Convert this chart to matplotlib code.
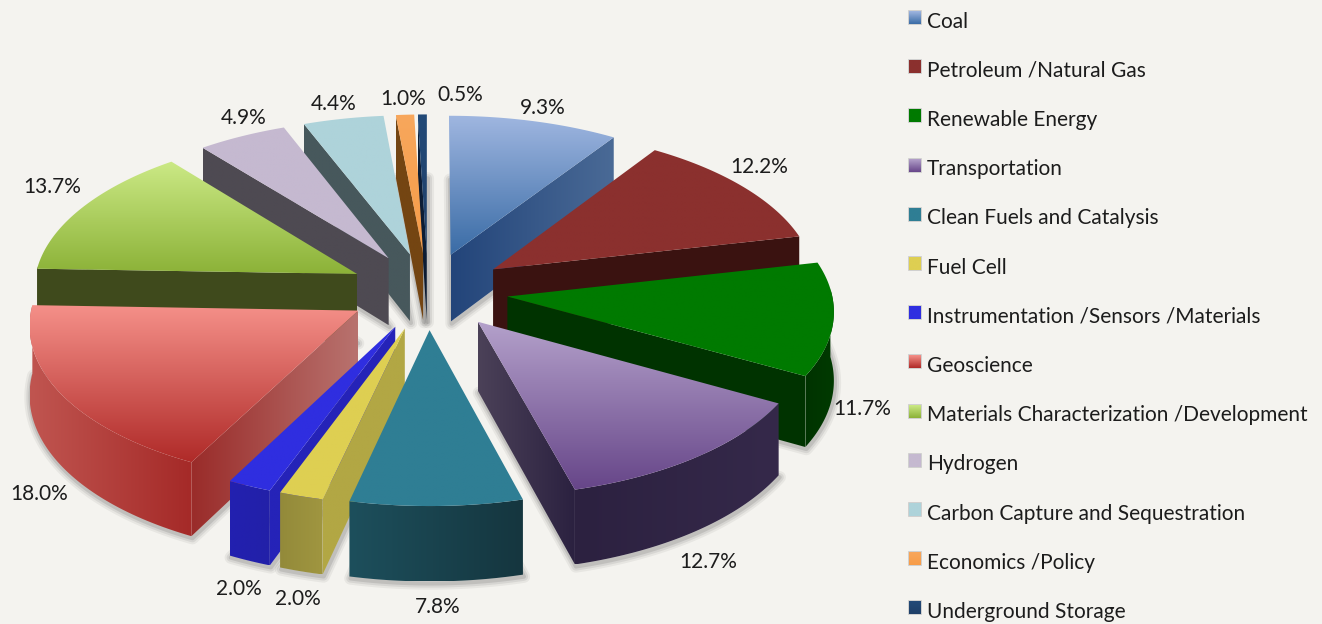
import numpy as np
import matplotlib
matplotlib.use('Agg')
import matplotlib.pyplot as plt
from matplotlib.patches import Polygon
from matplotlib.colors import LinearSegmentedColormap

categories = ['Coal', 'Petroleum /Natural Gas', 'Renewable Energy', 'Transportation',
              'Clean Fuels and Catalysis', 'Fuel Cell', 'Instrumentation /Sensors /Materials',
              'Geoscience', 'Materials Characterization /Development', 'Hydrogen',
              'Carbon Capture and Sequestration', 'Economics /Policy', 'Underground Storage']
values = [9.3, 12.2, 11.7, 12.7, 7.8, 2.0, 2.0, 18.0, 13.7, 4.9, 4.4, 1.0, 0.5]

# pixel centres of the percent labels, same order as values
label_xy = [(543, 108), (759, 167), (862, 409), (708, 562), (438, 607), (298, 599), (239, 589),
            (39, 494), (52, 187), (244, 118), (334, 104), (403, 99), (460, 95)]

# top face: colour at top, colour at bottom
top_a = ['#9fb6e0', '#8b302e', '#007a00', '#b3a0ca', '#2f7e94', '#decf52', '#2f2ee0',
         '#f59089', '#cbe985', '#c5b9d0', '#aed3da', '#f8a75c', '#234a78']
top_b = ['#3a6ca6', '#8b302e', '#007a00', '#674689', '#2f7e94', '#decf52', '#2f2ee0',
         '#b02b29', '#8cb238', '#c5b9d0', '#aed3da', '#f79c48', '#1f3f68']
# rim wall: left, right
wall_a = ['#5f7ba3', '#3a1210', '#003300', '#2c2140', '#1d4f5c', '#938a3a', '#2220b0',
          '#c05550', '#3f4a1c', '#4e4a52', '#47585c', '#7a4a1a', '#10243f']
wall_b = ['#3c5a84', '#3a1210', '#003a00', '#35294a', '#15363f', '#a09640', '#2220a8',
          '#a52a28', '#3f4a1c', '#4e4a52', '#47585c', '#7a4a1a', '#10243f']
# radial faces: left, right
side_a = ['#23457a', '#3a1210', '#003300', '#4b4158', '#1d4f5c', '#b2a744', '#2523b8',
          '#9a2c2a', '#3f4a1c', '#4e4a52', '#47585c', '#744512', '#0d1f38']
side_b = ['#4a6a96', '#3a1210', '#003300', '#2b2140', '#1d4f5c', '#b2a744', '#2523b8',
          '#b8726e', '#3f4a1c', '#4e4a52', '#47585c', '#744512', '#0d1f38']

bg = '#f4f3ef'
cx, cy = 428, 291      # pie centre
R = 324                # radius
expl = 80              # explosion distance
k = 0.48               # tilt
persp = 0.098          # perspective
depth = 68             # thickness


def proj(x, y):
    s = 1 / (1 + persp * y / 403.)
    return cx + x * s, cy - k * y * s, s


def grad(ax, poly, c1, c2, horizontal=False):
    cmap = LinearSegmentedColormap.from_list('g', [c1, c2])
    img = np.linspace(0, 1, 64)
    img = img.reshape(1, -1) if horizontal else img.reshape(-1, 1)
    x0, y0 = poly.min(axis=0)
    x1, y1 = poly.max(axis=0)
    im = ax.imshow(img, cmap=cmap, extent=(x0, x1, y1, y0), aspect='auto',
                   interpolation='bilinear', zorder=ax.zz)
    p = Polygon(poly, closed=True, transform=ax.transData, fc='none', ec='none')
    ax.add_patch(p)
    im.set_clip_path(p)
    ax.zz += 1


fig = plt.figure(figsize=(13.22, 6.24), dpi=100, facecolor=bg)
ax = fig.add_axes([0, 0, 1, 1])
ax.set_facecolor(bg)
ax.zz = 1

edges = np.cumsum([0] + values) / sum(values) * 2 * np.pi
mids = (edges[:-1] + edges[1:]) / 2

# back slices first
for i in np.argsort(-np.cos(mids)):
    a0, a1, m = edges[i], edges[i + 1], mids[i]
    ox, oy = expl * np.sin(m), expl * np.cos(m)
    th = np.linspace(a0, a1, 60)
    ax_x, ax_y, ax_s = proj(ox, oy)
    rx, ry, rs = proj(ox + R * np.sin(th), oy + R * np.cos(th))
    apex = np.array([ax_x, ax_y])
    rim = np.column_stack([rx, ry])
    rim_low = np.column_stack([rx, ry + depth * rs])
    apex_low = np.array([ax_x, ax_y + depth * ax_s])

    topf = np.vstack([apex, rim])
    f0 = np.array([apex, rim[0], rim_low[0], apex_low])
    f1 = np.array([apex, rim[-1], rim_low[-1], apex_low])

    # soft shadow of the underside
    for lw, al in [(9, 0.05), (6, 0.07), (3, 0.10)]:
        ax.add_patch(Polygon(np.vstack([apex_low, rim_low]) + [1, 2], closed=True, fc='none',
                             ec='#000000', lw=lw, alpha=al, zorder=ax.zz, joinstyle='round'))
    ax.zz += 1

    # radial faces, only when they look towards the viewer
    if np.sin(a0) < -1e-6:
        grad(ax, f0, side_a[i], side_b[i], horizontal=True)
    if np.sin(a1) > 1e-6:
        grad(ax, f1, side_a[i], side_b[i], horizontal=True)
    # only the part of the rim that faces the viewer
    front = np.cos(th) < 0.05
    if front.sum() > 1:
        wall = np.vstack([rim[front], rim_low[front][::-1]])
        grad(ax, wall, wall_a[i], wall_b[i], horizontal=True)
    grad(ax, topf, top_a[i], top_b[i])

for i, v in enumerate(values):
    ax.text(label_xy[i][0], label_xy[i][1], '%.1f%%' % v, family='Lato', fontsize=15,
            color='#1c1c1c', ha='center', va='center', zorder=ax.zz + 1)

for i, name in enumerate(categories):
    y = 20 + 49.2 * i
    box = np.array([[909, y - 9], [921, y - 9], [921, y + 4], [909, y + 4]])
    ax.add_patch(Polygon(box, closed=True, fc='none', ec='#c9c9c9', lw=1.2, zorder=ax.zz))
    ax.zz += 1
    grad(ax, box, top_a[i], top_b[i])
    ax.text(927, y + 1.5, name, family='Lato', fontsize=15, color='#1c1c1c', ha='left', va='center',
            zorder=ax.zz + 1)

ax.set_xlim(0, 1322)
ax.set_ylim(624, 0)
ax.axis('off')
fig.savefig('out.png', dpi=100, facecolor=bg)
